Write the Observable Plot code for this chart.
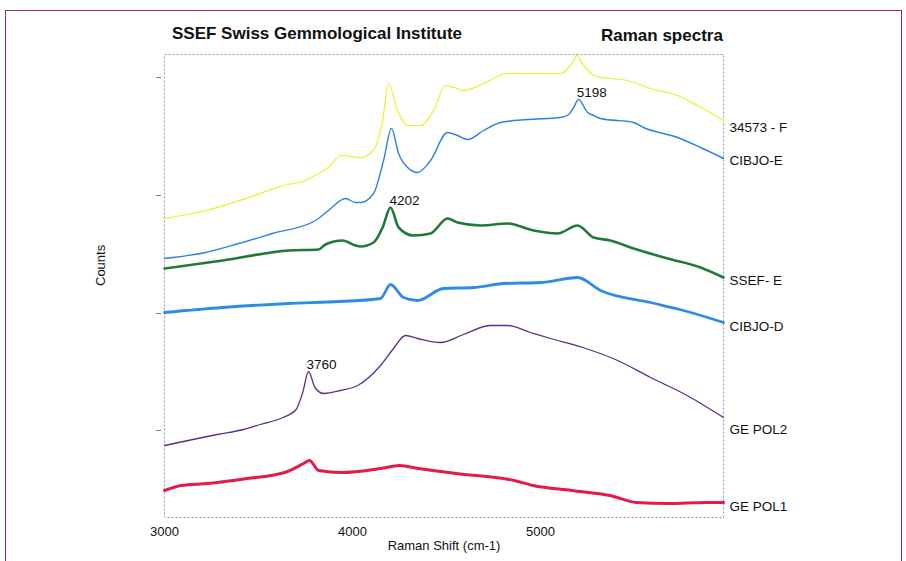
<!DOCTYPE html>
<html>
<head>
<meta charset="utf-8">
<script src="https://cdn.jsdelivr.net/npm/d3@7"></script>
<script src="https://cdn.jsdelivr.net/npm/@observablehq/plot@0.6"></script>
<style>
  html, body { margin: 0; padding: 0; background: #fff; }
  #wrap { position: relative; width: 906px; height: 561px; overflow: hidden; font-family: "Liberation Sans", Arial, sans-serif; }
  #border { position: absolute; left: 5px; top: 10px; width: 897px; height: 620px; border: 1.5px solid #a3303f; box-sizing: border-box; }
  .title { position: absolute; font-weight: bold; font-size: 17px; color: #111; white-space: nowrap; }
  #chart { position: absolute; left: 0; top: 0; }
</style>
</head>
<body>
<div id="wrap">
  <div id="border"></div>
  <div class="title" style="left:172px; top:24px;">SSEF Swiss Gemmological Institute</div>
  <div class="title" style="left:601px; top:26px;">Raman spectra</div>
  <div id="chart"></div>
</div>
<script>
// Raman shift (cm-1) and counts (arbitrary, offset spectra)
const spec34573F = [[3000,299],[3220,307],[3480,322],[3630,332],[3750,337],[3800,342],[3870,350],[3940,362],[4040,360],[4110,367],[4160,397],[4191,434],[4239,407],[4293,392],[4362,392],[4431,407],[4495,432],[4540,430],[4590,427],[4697,434],[4824,444],[4960,444],[5106,444],[5150,450],[5176,457],[5192,462],[5229,452],[5282,442],[5370,439],[5463,437],[5585,429],[5729,422],[5835,412],[5973,397]];
const specCIBJOE = [[3000,259],[3218,265],[3394,274],[3574,284],[3803,297],[3872,307],[3963,319],[4016,315],[4043,315],[4112,324],[4165,357],[4207,389],[4245,364],[4293,350],[4346,345],[4415,357],[4505,385],[4559,382],[4612,378],[4697,387],[4787,395],[4931,398],[5106,400],[5150,403],[5176,410],[5202,418],[5250,405],[5282,402],[5319,399],[5495,395],[5548,390],[5729,380],[5851,370],[5973,359]];
const specSSEFE = [[3000,249],[3309,257],[3660,267],[3819,268],[3856,273],[3947,277],[4016,272],[4043,271],[4112,275],[4160,290],[4202,310],[4245,290],[4324,282],[4415,284],[4505,299],[4559,295],[4681,292],[4824,294],[4963,287],[5090,284],[5197,292],[5282,280],[5370,277],[5495,269],[5676,259],[5851,250],[5973,240]];
const specCIBJOD = [[3000,205],[3309,210],[3660,214],[3936,216],[4149,219],[4202,233],[4271,220],[4346,217],[4484,229],[4644,230],[4803,234],[5000,235],[5197,240],[5319,227],[5585,215],[5761,207],[5973,195]];
const specGEPOL2 = [[3000,72],[3280,83],[3420,88],[3510,93],[3630,100],[3700,108],[3735,125],[3766,146],[3800,130],[3846,124],[3936,127],[4027,132],[4149,152],[4218,169],[4282,182],[4346,179],[4468,175],[4590,183],[4734,192],[4824,192],[4947,185],[5053,179],[5225,170],[5410,157],[5585,140],[5760,124],[5973,100]];
const specGEPOL1 = [[3000,27],[3090,32],[3230,34],[3440,39],[3640,45],[3740,54],[3771,57],[3820,47],[3940,45],[4150,49],[4250,52],[4350,49],[4550,44],[4860,37],[4960,32],[5165,27],[5370,22],[5510,15],[5680,14],[5880,15],[5973,15]];

const seriesNames = ["34573 - F","CIBJO-E","SSEF- E","CIBJO-D","GE POL2","GE POL1"];
const seriesData = [spec34573F, specCIBJOE, specSSEFE, specCIBJOD, specGEPOL2, specGEPOL1];
const seriesColors = ["#eef022","#2c82e2","#1f7a3a","#2e8ce8","#5e2f86","#e61a4a"];
const seriesWidths = [1.2, 1.4, 2.6, 2.8, 1.3, 3];
const labelCounts = [390, 357, 237, 191, 88, 11];

const peakShifts = [5198, 4202, 3760];
const peakCounts = [425, 317, 153];

const xTicks = [3000, 4000, 5000];
const yTicks = [87, 204, 322, 440];

const rows = seriesNames.flatMap((name, i) => seriesData[i].map(([x, y]) => ({name, x, y})));
const endLabels = seriesNames.map((name, i) => ({name, x: 5973, y: labelCounts[i]}));
const peaks = peakShifts.map((p, i) => ({x: p, y: peakCounts[i], t: String(p)}));

const lineMarks = seriesNames.map((name, i) =>
  Plot.line(rows.filter(d => d.name === name), {x: "x", y: "y", stroke: seriesColors[i], strokeWidth: seriesWidths[i], curve: "monotone-x"})
);

const chart = Plot.plot({
  width: 906,
  height: 561,
  marginLeft: 164,
  marginRight: 183,
  marginTop: 54,
  marginBottom: 44,
  style: {fontFamily: "'Liberation Sans', Arial, sans-serif", fontSize: "13px", color: "#111", background: "transparent"},
  x: {domain: [3000, 5973]},
  y: {domain: [0, 463]},
  marks: [
    Plot.frame({stroke: "#7f90c8", strokeDasharray: "2,2", strokeWidth: 1}),
    Plot.axisX({ticks: xTicks, tickSize: 0, tickPadding: 9, tickFormat: d => String(d), label: null, fontSize: 13}),
    Plot.axisY({ticks: yTicks, tickSize: 5, dx: -3, tickFormat: () => "", label: null, stroke: "#6d7fb8"}),
    ...lineMarks,
    Plot.text(endLabels, {x: "x", y: "y", text: "name", textAnchor: "start", dx: 6, fontSize: 13.5, fill: "#111"}),
    Plot.text(peaks, {x: "x", y: "y", text: "t", textAnchor: "start", dx: -1, fontSize: 13.5, fill: "#111"}),
    Plot.text(["Raman Shift (cm-1)"], {frameAnchor: "bottom", dy: 32, fontSize: 13, fill: "#111"}),
    Plot.text(["Counts"], {frameAnchor: "left", rotate: -90, dx: -64, fontSize: 13, fill: "#111"})
  ]
});
document.getElementById("chart").appendChild(chart);
</script>
</body>
</html>
